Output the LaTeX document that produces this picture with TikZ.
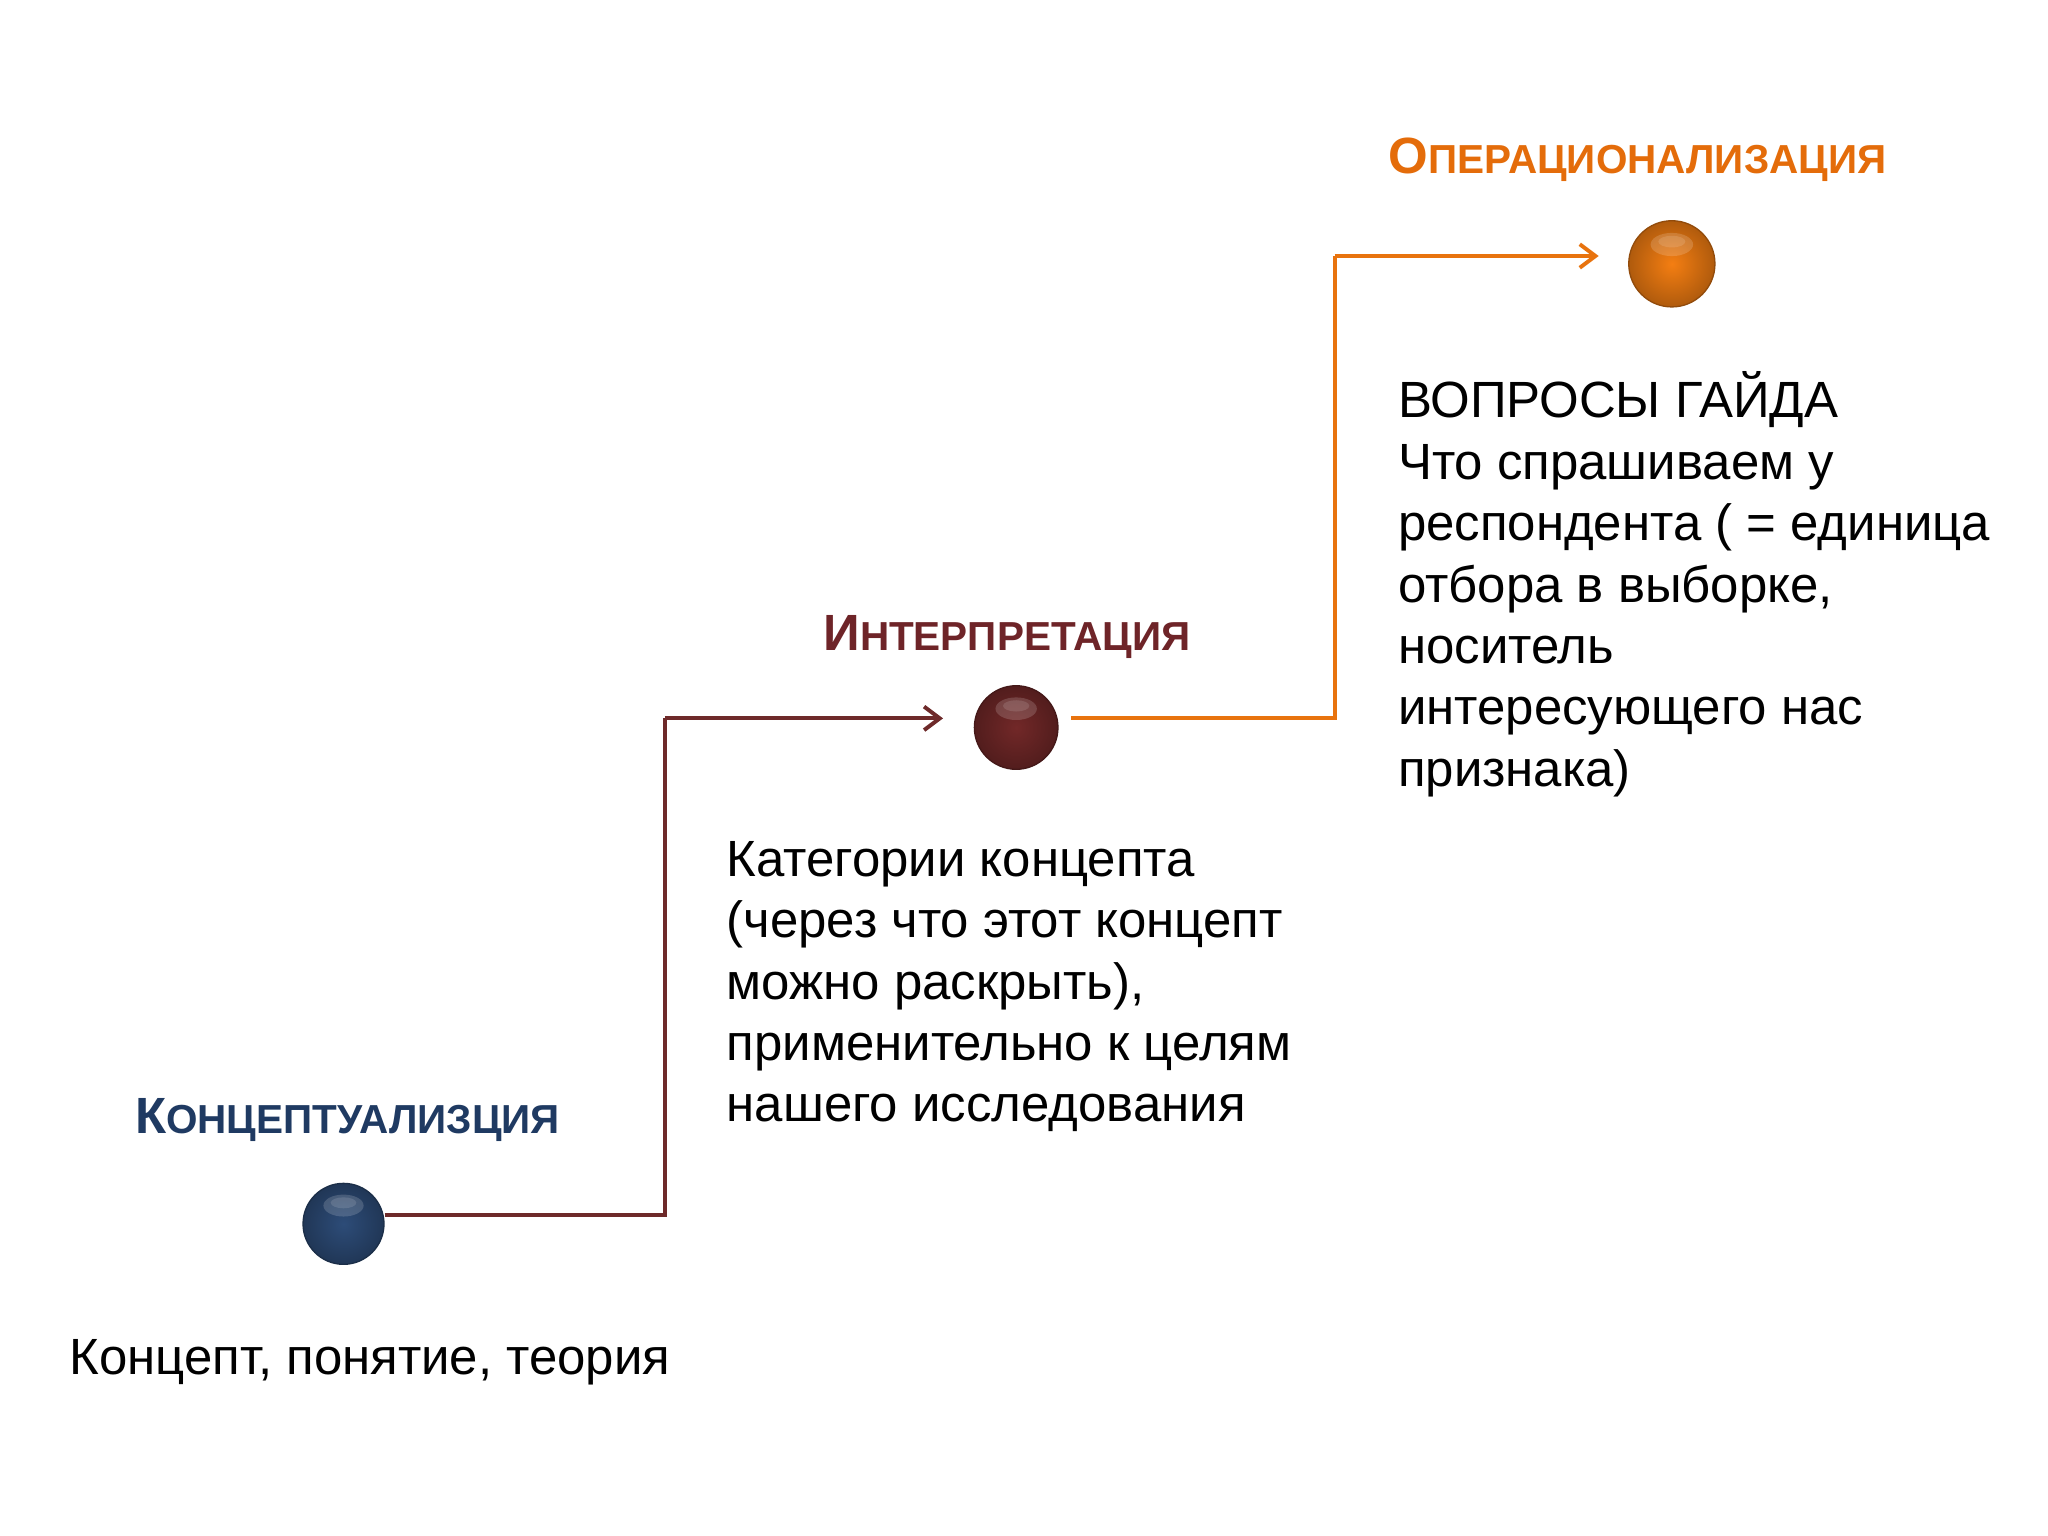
\documentclass[tikz,border=0pt]{standalone}
\usepackage{fontspec}
\setmainfont{Liberation Sans}
\usetikzlibrary{arrows.meta}
\definecolor{ballblue}{HTML}{2D4C78}
\definecolor{ballred}{HTML}{722828}
\definecolor{ballorange}{HTML}{F47E12}
\definecolor{ttlblue}{HTML}{1F3A62}
\definecolor{ttlred}{HTML}{6E2428}
\definecolor{ttlorange}{HTML}{E46C0A}
\definecolor{lineone}{HTML}{6E2A2A}
\definecolor{linetwo}{HTML}{E8730E}
\newcommand\mytitle[2]{{\bfseries\fontsize{19.5}{19.5}\selectfont #1\fontsize{15.5}{15.5}\selectfont #2}}
\begin{document}
\begin{tikzpicture}[x=0.5pt,y=-0.5pt,
  ballnode/.style={circle,minimum size=#1,inner sep=0pt},
  titlenode/.style={anchor=base west,inner sep=0pt},
  bodyline/.style={anchor=base west,inner sep=0pt,font=\fontsize{19.5}{23.5}\selectfont},
  conn/.style={line width=1.5pt,line join=miter,-{Straight Barb[length=6pt,width=9pt,line width=1.5pt]}},
  connplain/.style={line width=1.5pt,line join=miter}]
\useasboundingbox (0,0) rectangle (1568,1176);
\fill[white] (0,0) rectangle (1568,1176);

% balls
\newcommand\myball[5]{%
  \node[ballnode=#4pt,shading=radial,inner color=#3,outer color=#3!72!black] (#1) at #2 {};
  \fill[white,opacity=0.16] ([yshift=#5pt]#1.center) ellipse ({1.1*#5pt} and {0.6*#5pt});
  \fill[white,opacity=0.12] ([yshift=1.15*#5pt]#1.center) ellipse ({0.7*#5pt} and {0.3*#5pt});
  \draw[#3!60!black,line width=0.5pt] (#1) circle (#4pt/2);
}
\myball{blue}{(263,937)}{ballblue}{31}{7}
\myball{red}{(778,557)}{ballred}{32}{7.2}
\myball{orange}{(1280,202)}{ballorange}{33}{7.4}

% titles
\node[titlenode,text=ttlorange] (t3) at (1063,133) {\mytitle{О}{ПЕРАЦИОНАЛИЗАЦИЯ}};
\node[titlenode,text=ttlred] (t2) at (630,498) {\mytitle{И}{НТЕРПРЕТАЦИЯ}};
\node[titlenode,text=ttlblue] (t1) at (103,868) {\mytitle{К}{ОНЦЕПТУАЛИЗЦИЯ}};

% connectors
\coordinate (a1) at (509,930);
\coordinate (a2) at (509,550);
\coordinate (a3) at (722,550);
\draw[connplain,lineone] (blue.east |- a1) -- (a1) -- (a2);
\draw[conn,lineone] (a2) -- (a3);
\coordinate (b0) at (820,550);
\coordinate (b1) at (1022,550);
\coordinate (b2) at (1022,196);
\coordinate (b3) at (1224,196);
\draw[connplain,linetwo] (b0) -- (b1) -- (b2);
\draw[conn,linetwo] (b2) -- (b3);

% texts
\node[bodyline] (k1) at (53,1052) {Концепт, понятие, теория};

\node[bodyline] (m1) at (556,671) {Категории концепта};
\node[bodyline] (m2) at (556,718) {(через что этот концепт};
\node[bodyline] (m3) at (556,765) {можно раскрыть),};
\node[bodyline] (m4) at (556,812) {применительно к целям};
\node[bodyline] (m5) at (556,859) {нашего исследования};

\node[bodyline] (r1) at (1070,320) {ВОПРОСЫ ГАЙДА};
\node[bodyline] (r2) at (1070,367) {Что спрашиваем у};
\node[bodyline] (r3) at (1070,414) {респондента ( = единица};
\node[bodyline] (r4) at (1070,461) {отбора в выборке,};
\node[bodyline] (r5) at (1070,508) {носитель};
\node[bodyline] (r6) at (1070,555) {интересующего нас};
\node[bodyline] (r7) at (1070,602) {признака)};
\end{tikzpicture}
\end{document}
